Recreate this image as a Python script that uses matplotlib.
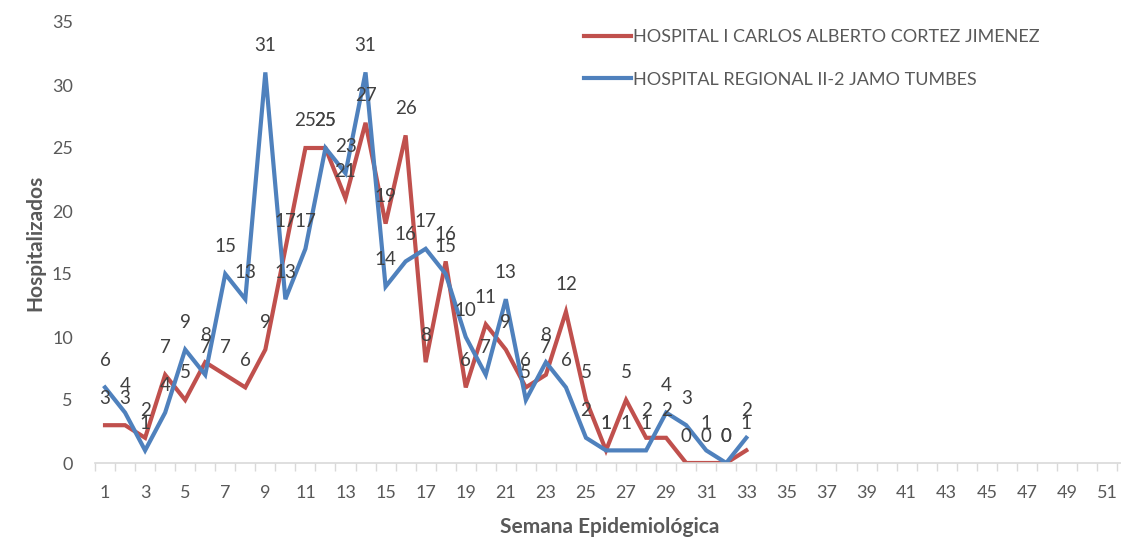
import numpy as np
import matplotlib
matplotlib.use('Agg')
import matplotlib.pyplot as plt

#%% Datos (semanas epidemiológicas 1-33)
semanas = list(range(1, 34))
carlos_cortez = [3, 3, 2, 7, 5, 8, 7, 6, 9, 17, 25, 25, 21, 27, 19, 26, 8, 16,
                 6, 11, 9, 6, 7, 12, 5, 1, 5, 2, 2, 0, 0, 0, 1]
jamo_tumbes = [6, 4, 1, 4, 9, 7, 15, 13, 31, 13, 17, 25, 23, 31, 14, 16, 17, 15,
               10, 7, 13, 5, 8, 6, 2, 1, 1, 1, 4, 3, 1, 0, 2]
nombres = ['HOSPITAL I CARLOS ALBERTO CORTEZ JIMENEZ',
           'HOSPITAL REGIONAL II-2 JAMO TUMBES']
n_semanas = 52

rojo = '#C0504D'
azul = '#4F81BD'
gris = '#595959'

plt.rcParams['font.family'] = ['Lato', 'DejaVu Sans']

#%% Gráfico
W, H = 1121, 539
fig = plt.figure(figsize=(W / 100, H / 100), dpi=100)
x0, x1 = 95, 95 + 52 * 20.04
y0, y1 = 463, 22
ax = fig.add_axes([x0 / W, (H - y0) / H, (x1 - x0) / W, (y0 - y1) / H])

l1, = ax.plot(semanas, carlos_cortez, color=rojo, lw=3, solid_joinstyle='miter')
l2, = ax.plot(semanas, jamo_tumbes, color=azul, lw=3, solid_joinstyle='miter')

for xs, ys in [(semanas, carlos_cortez), (semanas, jamo_tumbes)]:
    for xi, yi in zip(xs, ys):
        ax.annotate(str(yi), (xi, yi), xytext=(0, 27), textcoords='offset pixels',
                    ha='center', va='center', fontsize=13.5, color='#404040')

ax.set_xlim(0.5, n_semanas + 0.5)
ax.set_ylim(0, 35)
ax.set_yticks(np.arange(0, 36, 5))
ax.set_xticks(np.arange(1, n_semanas + 1, 2))
ax.set_xticks(np.arange(0.5, n_semanas + 1, 1), minor=True)
ax.tick_params(axis='x', which='major', length=0, pad=16, labelsize=13, labelcolor=gris)
ax.tick_params(axis='x', which='minor', length=6, color='#D9D9D9', width=1)
ax.tick_params(axis='y', length=0, pad=16, labelsize=13, labelcolor=gris)

for s in ['top', 'right', 'left']:
    ax.spines[s].set_visible(False)
ax.spines['bottom'].set_color('#D9D9D9')
ax.spines['bottom'].set_linewidth(1.2)

fig.text(35 / W, 1 - 243 / H, 'Hospitalizados', rotation=90, ha='center', va='center',
         fontsize=15, fontweight='bold', color=gris)
fig.text(610 / W, 1 - 527 / H, 'Semana Epidemiológica', ha='center', va='center',
         fontsize=15, fontweight='bold', color=gris)

fig.legend([l1, l2], nombres, loc='center left', bbox_to_anchor=(568 / W, 1 - 58.5 / H),
           frameon=False, fontsize=13, handlelength=2.6, handletextpad=0.1,
           labelspacing=1.45, labelcolor=gris)

plt.savefig('out.png', dpi=100)
